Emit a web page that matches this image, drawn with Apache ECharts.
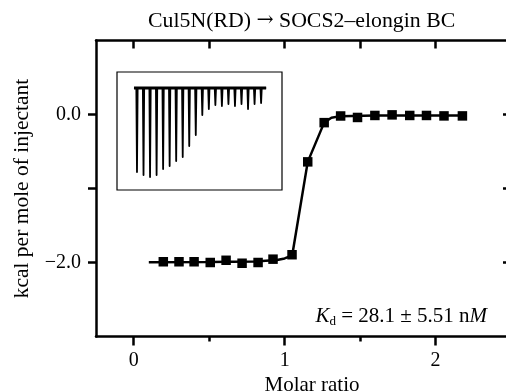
<!DOCTYPE html>
<html>
<head>
<meta charset="utf-8">
<script src="https://cdn.jsdelivr.net/npm/echarts@6/dist/echarts.min.js"></script>
<style>
  html, body { margin: 0; padding: 0; background: #fff; }
  #chart { width: 506px; height: 392px; }
</style>
</head>
<body>
<div id="chart"></div>
<script>
// integrated heats (kcal per mole of injectant) vs molar ratio
const molarRatio = [0.196, 0.30, 0.40, 0.507, 0.612, 0.718, 0.824, 0.923, 1.049, 1.153,
  1.262, 1.371, 1.483, 1.598, 1.712, 1.829, 1.94, 2.056, 2.178];
const heat = [-1.99, -1.99, -1.99, -2.0, -1.97, -2.01, -2.0, -1.955, -1.895, -0.64,
  -0.11, -0.02, -0.04, -0.013, -0.005, -0.013, -0.013, -0.019, -0.019];

// fitted binding curve
const fitX = [0.1, 0.5, 0.8, 0.95, 1.0, 1.05, 1.153, 1.262, 1.31, 1.37, 1.6, 2.0, 2.18];
const fitY = [-1.995, -1.993, -1.985, -1.965, -1.945, -1.905, -0.64, -0.11, -0.045, -0.022, -0.014, -0.013, -0.013];

// raw titration trace in the inset: one spike per injection
const injection = [0, 1, 2, 3, 4, 5, 6, 7, 8, 9, 10, 11, 12, 13, 14, 15, 16, 17, 18, 19];
const spikeDepth = [-0.84, -0.87, -0.89, -0.87, -0.81, -0.78, -0.73, -0.69, -0.58, -0.47,
  -0.27, -0.21, -0.17, -0.18, -0.16, -0.18, -0.16, -0.21, -0.16, -0.15];
const traceStart = -0.46;
const traceEnd = 19.77;

const xMajor = [0, 1, 2];
const xMinor = [0.5, 1.5];
const yTicks = [-2, -1, 0];
const yLabels = [-2, 0];

const serif = "Liberation Serif";

const chart = echarts.init(document.getElementById("chart"), null, { renderer: "canvas" });

const points = molarRatio.map((x, i) => [x, heat[i]]);
const fit = fitX.map((x, i) => [x, fitY[i]]);
const trace = [[traceStart, 0]];
injection.forEach((t, i) => {
  trace.push([t - 0.1, 0], [t, spikeDepth[i]], [t + 0.1, 0]);
});
trace.push([traceEnd, 0]);

const axisLine = { show: true, onZero: false, lineStyle: { color: "#000", width: 2.5 } };
const fmtY = (v) => (v < 0 ? "\u2212" : "") + Math.abs(v).toFixed(1);

const option = {
  animation: false,
  backgroundColor: "#fff",
  grid: [
    { left: 96, top: 40.5, width: 415, height: 296, containLabel: false, outerBoundsMode: "none" },
    { left: 117, top: 72, width: 165, height: 118, show: true, borderColor: "#000", borderWidth: 1.2,
      backgroundColor: "transparent", outerBoundsMode: "none" },
  ],
  xAxis: [
    {
      gridIndex: 0, type: "value", position: "bottom", min: -0.25, max: 2.5,
      axisLine,
      axisTick: { show: true, inside: false, length: 9, customValues: xMajor, lineStyle: { color: "#000", width: 2.5 } },
      axisLabel: { show: true, customValues: xMajor, margin: 14, color: "#000", fontFamily: serif, fontSize: 20 },
      splitLine: { show: false },
      name: "Molar ratio", nameLocation: "middle", nameGap: 38,
      nameTextStyle: { color: "#000", fontFamily: serif, fontSize: 21, padding: [0, 0, 0, 17] },
    },
    {
      gridIndex: 0, type: "value", position: "bottom", min: -0.25, max: 2.5,
      axisLine: { show: false, onZero: false },
      axisTick: { show: true, inside: false, length: 5, customValues: xMinor, lineStyle: { color: "#000", width: 2.5 } },
      axisLabel: { show: false },
      splitLine: { show: false },
    },
    {
      gridIndex: 0, type: "value", position: "top", min: -0.25, max: 2.5,
      axisLine,
      axisTick: { show: true, inside: true, length: 8, customValues: xMajor.concat(xMinor), lineStyle: { color: "#000", width: 2.5 } },
      axisLabel: { show: false },
      splitLine: { show: false },
    },
    {
      gridIndex: 1, type: "value", min: -3.06, max: 22.2, show: false,
    },
  ],
  yAxis: [
    {
      gridIndex: 0, type: "value", position: "left", min: -3, max: 1,
      axisLine,
      axisTick: { show: true, inside: false, length: 8, customValues: yTicks, lineStyle: { color: "#000", width: 2.5 } },
      axisLabel: { show: true, customValues: yLabels, formatter: fmtY, margin: 15, color: "#000", fontFamily: serif, fontSize: 20 },
      splitLine: { show: false },
      name: "kcal per mole of injectant", nameLocation: "middle", nameGap: 61,
      nameTextStyle: { color: "#000", fontFamily: serif, fontSize: 21.5 },
    },
    {
      gridIndex: 0, type: "value", position: "right", min: -3, max: 1,
      axisLine,
      axisTick: { show: true, inside: true, length: 8, customValues: yTicks, lineStyle: { color: "#000", width: 2.5 } },
      axisLabel: { show: false },
      splitLine: { show: false },
    },
    {
      gridIndex: 1, type: "value", min: -1.02, max: 0.16, show: false,
    },
  ],
  graphic: [
    {
      type: "text", left: 148, top: 10,
      style: {
        text: "{n|Cul5N(RD) }{a|\u2192}{n| SOCS2\u2013elongin BC}",
        rich: {
          n: { fontFamily: serif, fontSize: 21.8, fill: "#000", lineHeight: 25 },
          a: { fontFamily: "DejaVu Serif", fontSize: 20.5, fill: "#000", lineHeight: 25 },
        },
      },
    },
    {
      type: "text", right: 19, top: 306,
      style: {
        text: "{i|K}{s|d}{n| = 28.1 \u00b1 5.51 n}{i|M}",
        rich: {
          i: { fontFamily: serif, fontStyle: "italic", fontSize: 21, fill: "#000", lineHeight: 24, verticalAlign: "middle" },
          n: { fontFamily: serif, fontSize: 21, fill: "#000", lineHeight: 24, verticalAlign: "middle" },
          s: { fontFamily: serif, fontSize: 13, fill: "#000", lineHeight: 13, verticalAlign: "bottom" },
        },
      },
    },
  ],
  series: [
    {
      type: "line", xAxisIndex: 0, yAxisIndex: 0, data: fit,
      showSymbol: false, lineStyle: { color: "#000", width: 2.5 }, z: 2,
    },
    {
      type: "scatter", xAxisIndex: 0, yAxisIndex: 0, data: points,
      symbol: "rect", symbolSize: 9.5, itemStyle: { color: "#000", opacity: 1 }, z: 3,
    },
    {
      type: "line", xAxisIndex: 3, yAxisIndex: 2, data: [[traceStart, 0], [traceEnd, 0]],
      showSymbol: false, lineStyle: { color: "#000", width: 3 },
    },
    {
      type: "line", xAxisIndex: 3, yAxisIndex: 2, data: trace,
      showSymbol: false, lineStyle: { color: "#000", width: 1.8, join: "round" },
    },
  ],
};

chart.setOption(option);
</script>
</body>
</html>
